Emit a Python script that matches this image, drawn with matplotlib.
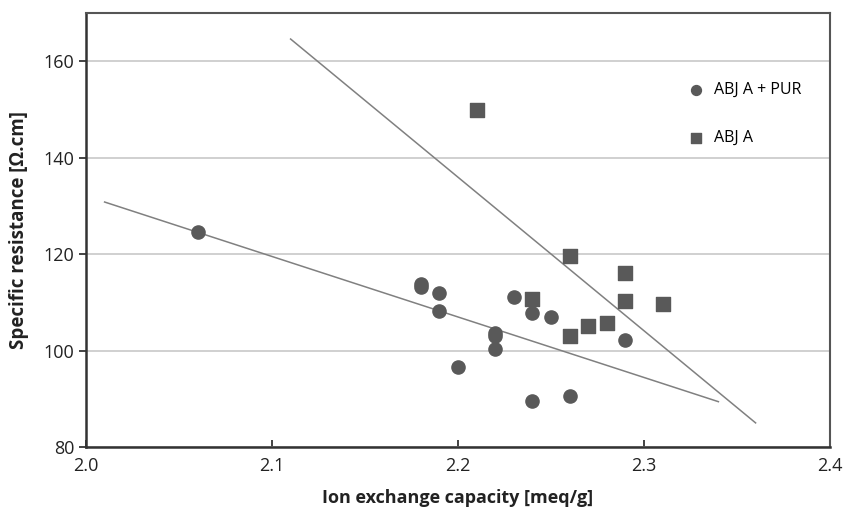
import numpy as np
import matplotlib.pyplot as plt

plt.rcParams['font.family'] = ['Open Sans', 'DejaVu Sans']

# ABJ A + PUR (circles)
pur_x = [2.06, 2.18, 2.18, 2.19, 2.19, 2.20, 2.22, 2.22, 2.22, 2.23, 2.24, 2.24, 2.25, 2.26, 2.29]
pur_y = [124.6, 113.8, 113.2, 112.0, 108.1, 96.6, 103.6, 103.0, 100.4, 111.2, 107.7, 89.5, 107.0, 90.5, 102.1]

# ABJ A (squares)
abj_x = [2.21, 2.24, 2.26, 2.26, 2.27, 2.28, 2.29, 2.29, 2.31]
abj_y = [149.8, 110.6, 119.6, 103.0, 105.1, 105.7, 116.1, 110.2, 109.6]

# trend lines (end points)
pur_fit_x = [2.01, 2.34]
pur_fit_y = [130.8, 89.4]
abj_fit_x = [2.11, 2.36]
abj_fit_y = [164.6, 85.0]

fig = plt.figure(figsize=(8.44, 5.09), dpi=100)
ax = fig.add_axes([0.1019, 0.1218, 0.8815, 0.8527])

ax.plot(pur_fit_x, pur_fit_y, color='#808080', lw=1.1, zorder=2)
ax.plot(abj_fit_x, abj_fit_y, color='#808080', lw=1.1, zorder=2)
ax.scatter(pur_x, pur_y, marker='o', s=90, color='#595959', label='ABJ A + PUR', zorder=3)
ax.scatter(abj_x, abj_y, marker='s', s=90, color='#595959', label='ABJ A', zorder=3)

ax.set_xlim(2.0, 2.4)
ax.set_ylim(80, 170)
ax.set_xticks(np.arange(2.0, 2.41, 0.1))
ax.set_xticklabels(['2.0', '2.1', '2.2', '2.3', '2.4'])
ax.set_yticks([80, 100, 120, 140, 160])
ax.tick_params(axis='both', labelsize=13, colors='#222222', length=5, width=1.2)
ax.tick_params(axis='x', direction='in', pad=7)
ax.grid(axis='y', color='#c8c8c8', lw=1.2)
ax.set_axisbelow(True)
for side in ['left', 'bottom']:
    ax.spines[side].set_linewidth(1.8)
    ax.spines[side].set_color('#333333')
for side in ['top', 'right']:
    ax.spines[side].set_linewidth(1.5)
    ax.spines[side].set_color('#555555')

ax.set_xlabel('Ion exchange capacity [meq/g]', fontsize=13, fontweight='bold', color='#222222', labelpad=10)
ax.set_ylabel('Specific resistance [Ω.cm]', fontsize=13.5, fontweight='bold', color='#222222', labelpad=10)

ax.legend(loc='upper left', bbox_to_anchor=(0.79, 0.855), frameon=False, fontsize=11.5,
          markerscale=0.75, handletextpad=0.1, labelspacing=2.0, borderaxespad=0)

fig.savefig('out.png', dpi=100)
